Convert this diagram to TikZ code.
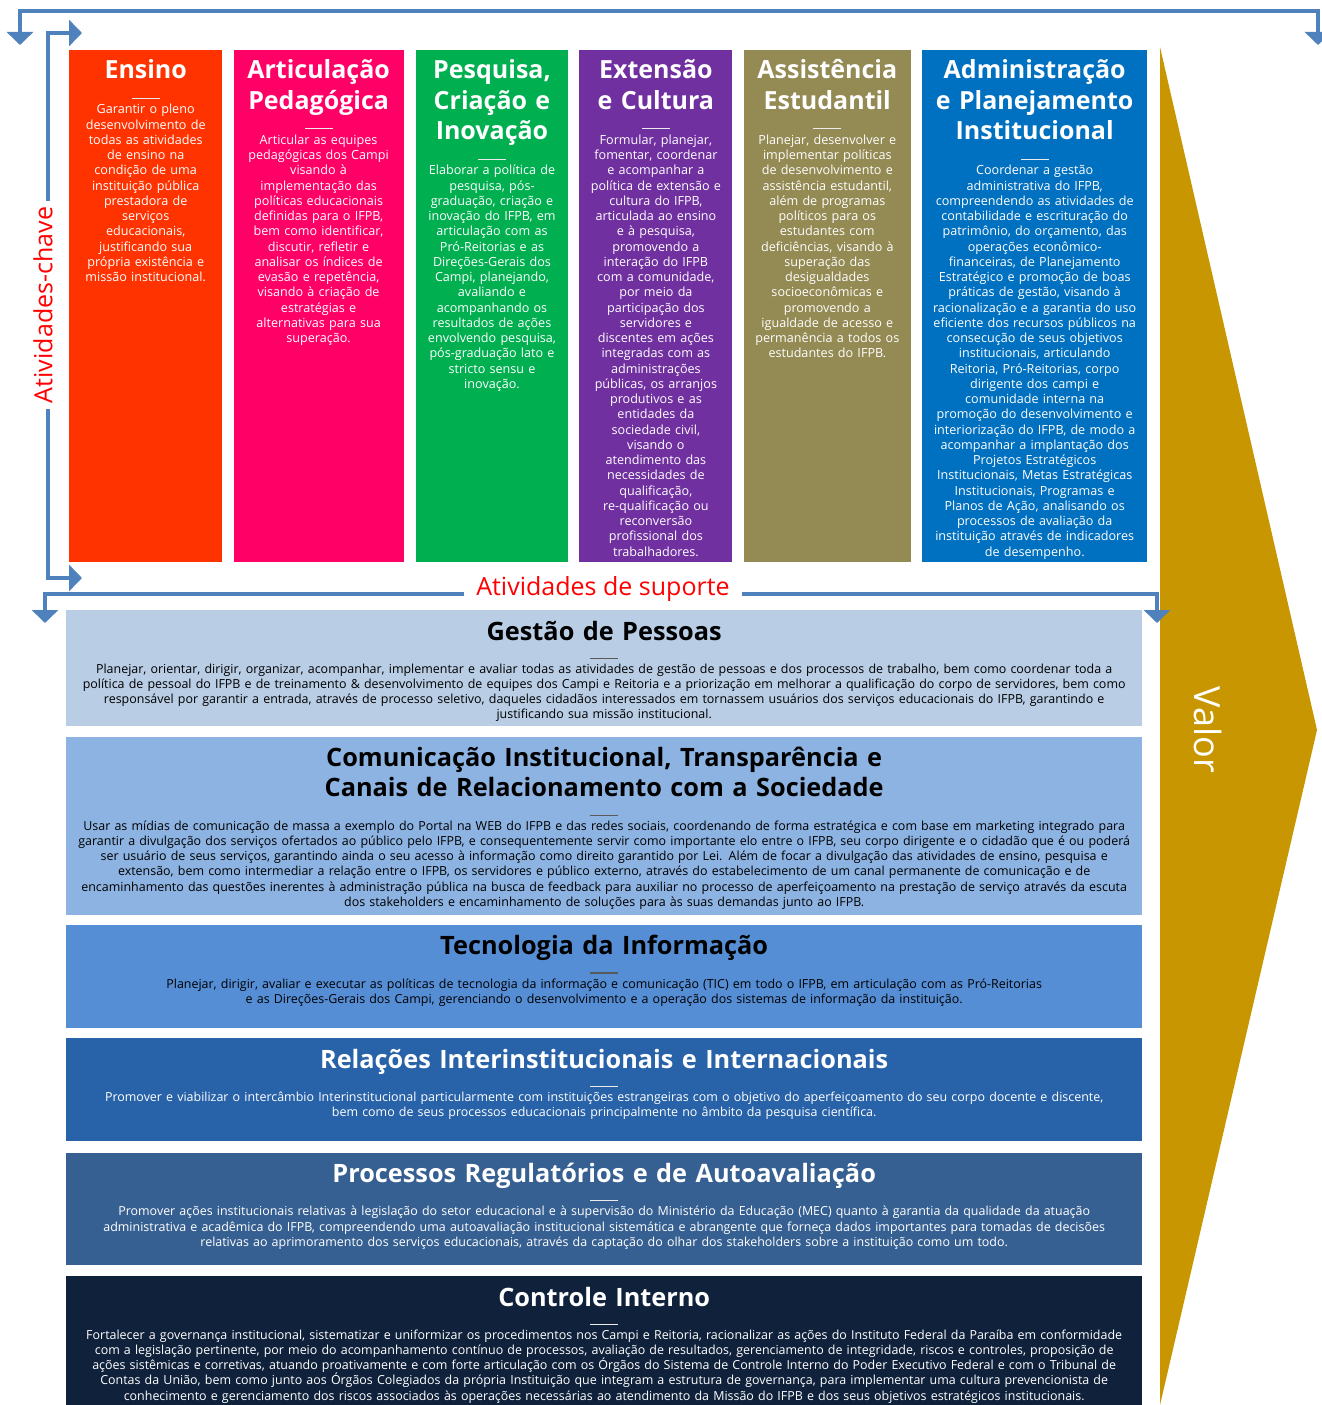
\documentclass[tikz,border=0pt]{standalone}
\usepackage{fontspec}
\setmainfont{Open Sans}
\usetikzlibrary{positioning,arrows.meta}

\definecolor{ensinoC}{HTML}{FF3300}
\definecolor{articC}{HTML}{FF0066}
\definecolor{pesqC}{HTML}{00B050}
\definecolor{extC}{HTML}{7030A0}
\definecolor{assistC}{HTML}{948A54}
\definecolor{adminC}{HTML}{0070C0}
\definecolor{gestaoC}{HTML}{B9CDE5}
\definecolor{comunC}{HTML}{8DB3E2}
\definecolor{tecC}{HTML}{558ED5}
\definecolor{relC}{HTML}{2862A8}
\definecolor{procC}{HTML}{376092}
\definecolor{contrC}{HTML}{10213B}
\definecolor{valorC}{HTML}{C89600}
\definecolor{arrowC}{HTML}{4F81BD}

\begin{document}
\begin{tikzpicture}[
    x=1pt, y=-1pt,
    colbox/.style={rectangle, inner sep=0pt, minimum height=512pt},
    coltitle/.style={text width=220pt, align=center, text=white, inner sep=0pt, font=\fontsize{25}{30.5}\selectfont\bfseries, execute at begin node=\strut, execute at end node=\strut},
    coltext/.style={text width=220pt, align=center, text=white, inner sep=0pt, font=\fontsize{12.6}{15.25}\selectfont, execute at begin node=\strut},
    sepline/.style={rectangle, inner sep=0pt, minimum width=28pt, minimum height=1.2pt, fill=white!85!gray},
    rowbox/.style={rectangle, inner sep=0pt, minimum width=1076pt},
    rowtitle/.style={text width=1070pt, align=center, inner sep=0pt, font=\fontsize{25.3}{30.5}\selectfont\bfseries, execute at begin node=\strut, execute at end node=\strut},
    rowtext/.style={text width=1120pt, align=center, inner sep=0pt, font=\fontsize{12.45}{15.2}\selectfont, execute at begin node=\strut},
    flow/.style={draw=arrowC, line width=3.2pt, <->, >={Triangle[width=26pt,length=13pt]}},
    sidelabel/.style={text=red, fill=white, font=\fontsize{25}{28}\selectfont, inner ysep=3pt}
]
\useasboundingbox (0,0) rectangle (1322,1405);

% Valor chevron
\fill[valorC] (1160,47) -- (1317,730) -- (1160,1405) -- cycle;
\node[text=white, font=\fontsize{36}{40}\selectfont, rotate=-90] (valor) at (1208,730) {Valor};

% Key activities (columns)
\node[colbox, fill=ensinoC, minimum width=153pt, anchor=north west] (ensino) at (69,50) {};
\node[colbox, fill=articC, minimum width=170pt, right=11pt of ensino] (artic) {};
\node[colbox, fill=pesqC, minimum width=152pt, right=12pt of artic] (pesq) {};
\node[colbox, fill=extC, minimum width=153pt, right=11pt of pesq] (ext) {};
\node[colbox, fill=assistC, minimum width=167pt, right=11pt of ext] (assist) {};
\node[colbox, fill=adminC, minimum width=225pt, right=11pt of assist] (admin) {};

% Ensino
\node[coltitle, below=7pt of ensino.north] (ensinoTitle) {Ensino};
\node[sepline, below=9.5pt of ensinoTitle] (ensinoSep) {};
\node[coltext, below=4pt of ensinoSep] (ensinoText) {Garantir o pleno\\ desenvolvimento de\\ todas as atividades\\ de ensino na\\ condição de uma\\ instituição pública\\ prestadora de\\ serviços\\ educacionais,\\ justificando sua\\ própria existência e\\ missão institucional.};

% Articulacao Pedagogica
\node[coltitle, below=7pt of artic.north] (articTitle) {Articulação\\ Pedagógica};
\node[sepline, below=9.5pt of articTitle] (articSep) {};
\node[coltext, below=4pt of articSep] (articText) {Articular as equipes\\ pedagógicas dos Campi\\ visando à\\ implementação das\\ políticas educacionais\\ definidas para o IFPB,\\ bem como identificar,\\ discutir, refletir e\\ analisar os índices de\\ evasão e repetência,\\ visando à criação de\\ estratégias e\\ alternativas para sua\\ superação.};

% Pesquisa
\node[coltitle, below=7pt of pesq.north] (pesqTitle) {Pesquisa,\\ Criação e\\ Inovação};
\node[sepline, below=9.5pt of pesqTitle] (pesqSep) {};
\node[coltext, below=4pt of pesqSep] (pesqText) {Elaborar a política de\\ pesquisa, pós-\\ graduação, criação e\\ inovação do IFPB, em\\ articulação com as\\ Pró-Reitorias e as\\ Direções-Gerais dos\\ Campi, planejando,\\ avaliando e\\ acompanhando os\\ resultados de ações\\ envolvendo pesquisa,\\ pós-graduação lato e\\ stricto sensu e\\ inovação.};

% Extensao
\node[coltitle, below=7pt of ext.north] (extTitle) {Extensão\\ e Cultura};
\node[sepline, below=9.5pt of extTitle] (extSep) {};
\node[coltext, below=4pt of extSep] (extText) {Formular, planejar,\\ fomentar, coordenar\\ e acompanhar a\\ política de extensão e\\ cultura do IFPB,\\ articulada ao ensino\\ e à pesquisa,\\ promovendo a\\ interação do IFPB\\ com a comunidade,\\ por meio da\\ participação dos\\ servidores e\\ discentes em ações\\ integradas com as\\ administrações\\ públicas, os arranjos\\ produtivos e as\\ entidades da\\ sociedade civil,\\ visando o\\ atendimento das\\ necessidades de\\ qualificação,\\ re-qualificação ou\\ reconversão\\ profissional dos\\ trabalhadores.};

% Assistencia Estudantil
\node[coltitle, below=7pt of assist.north] (assistTitle) {Assistência\\ Estudantil};
\node[sepline, below=9.5pt of assistTitle] (assistSep) {};
\node[coltext, below=4pt of assistSep] (assistText) {Planejar, desenvolver e\\ implementar políticas\\ de desenvolvimento e\\ assistência estudantil,\\ além de programas\\ políticos para os\\ estudantes com\\ deficiências, visando à\\ superação das\\ desigualdades\\ socioeconômicas e\\ promovendo a\\ igualdade de acesso e\\ permanência a todos os\\ estudantes do IFPB.};

% Administracao
\node[coltitle, below=7pt of admin.north] (adminTitle) {Administração\\ e Planejamento\\ Institucional};
\node[sepline, below=9.5pt of adminTitle] (adminSep) {};
\node[coltext, below=4pt of adminSep] (adminText) {Coordenar a gestão\\ administrativa do IFPB,\\ compreendendo as atividades de\\ contabilidade e escrituração do\\ patrimônio, do orçamento, das\\ operações econômico-\\ financeiras, de Planejamento\\ Estratégico e promoção de boas\\ práticas de gestão, visando à\\ racionalização e a garantia do uso\\ eficiente dos recursos públicos na\\ consecução de seus objetivos\\ institucionais, articulando\\ Reitoria, Pró-Reitorias, corpo\\ dirigente dos campi e\\ comunidade interna na\\ promoção do desenvolvimento e\\ interiorização do IFPB, de modo a\\ acompanhar a implantação dos\\ Projetos Estratégicos\\ Institucionais, Metas Estratégicas\\ Institucionais, Programas e\\ Planos de Ação, analisando os\\ processos de avaliação da\\ instituição através de indicadores\\ de desempenho.};

% Support activities (rows)
\node[rowbox, fill=gestaoC, minimum height=116pt, anchor=north west] (gestao) at (66,610) {};
\node[rowbox, fill=comunC, minimum height=178pt, below=10pt of gestao] (comun) {};
\node[rowbox, fill=tecC, minimum height=103pt, below=10pt of comun] (tec) {};
\node[rowbox, fill=relC, minimum height=103pt, below=10pt of tec] (rel) {};
\node[rowbox, fill=procC, minimum height=112pt, below=11pt of rel] (proc) {};
\node[rowbox, fill=contrC, minimum height=131pt, below=11pt of proc] (contr) {};

% Gestao de Pessoas
\node[rowtitle, below=8.5pt of gestao.north] (gestaoTitle) {Gestão de Pessoas};
\node[sepline, fill=black!65, below=8pt of gestaoTitle] (gestaoSep) {};
\node[rowtext, below=3.5pt of gestaoSep] (gestaoText) {Planejar, orientar, dirigir, organizar, acompanhar, implementar e avaliar todas as atividades de gestão de pessoas e dos processos de trabalho, bem como coordenar toda a\\ política de pessoal do IFPB e de treinamento \& desenvolvimento de equipes dos Campi e Reitoria e a priorização em melhorar a qualificação do corpo de servidores, bem como\\ responsável por garantir a entrada, através de processo seletivo, daqueles cidadãos interessados em tornassem usuários dos serviços educacionais do IFPB, garantindo e\\ justificando sua missão institucional.};

% Comunicacao
\node[rowtitle, below=8.5pt of comun.north] (comunTitle) {Comunicação Institucional, Transparência e\\ Canais de Relacionamento com a Sociedade};
\node[sepline, fill=black!65, below=8pt of comunTitle] (comunSep) {};
\node[rowtext, below=3.5pt of comunSep] (comunText) {Usar as mídias de comunicação de massa a exemplo do Portal na WEB do IFPB e das redes sociais, coordenando de forma estratégica e com base em marketing integrado para\\ garantir a divulgação dos serviços ofertados ao público pelo IFPB, e consequentemente servir como importante elo entre o IFPB, seu corpo dirigente e o cidadão que é ou poderá\\ ser usuário de seus serviços, garantindo ainda o seu acesso à informação como direito garantido por Lei. Além de focar a divulgação das atividades de ensino, pesquisa e\\ extensão, bem como intermediar a relação entre o IFPB, os servidores e público externo, através do estabelecimento de um canal permanente de comunicação e de\\ encaminhamento das questões inerentes à administração pública na busca de feedback para auxiliar no processo de aperfeiçoamento na prestação de serviço através da escuta\\ dos stakeholders e encaminhamento de soluções para às suas demandas junto ao IFPB.};

% Tecnologia da Informacao
\node[rowtitle, below=8.5pt of tec.north] (tecTitle) {Tecnologia da Informação};
\node[sepline, fill=black!65, below=8pt of tecTitle] (tecSep) {};
\node[rowtext, below=3.5pt of tecSep] (tecText) {Planejar, dirigir, avaliar e executar as políticas de tecnologia da informação e comunicação (TIC) em todo o IFPB, em articulação com as Pró-Reitorias\\ e as Direções-Gerais dos Campi, gerenciando o desenvolvimento e a operação dos sistemas de informação da instituição.};

% Relacoes
\node[rowtitle, text=white, below=8.5pt of rel.north] (relTitle) {Relações Interinstitucionais e Internacionais};
\node[sepline, below=8pt of relTitle] (relSep) {};
\node[rowtext, text=white, below=3.5pt of relSep] (relText) {Promover e viabilizar o intercâmbio Interinstitucional particularmente com instituições estrangeiras com o objetivo do aperfeiçoamento do seu corpo docente e discente,\\ bem como de seus processos educacionais principalmente no âmbito da pesquisa científica.};

% Processos
\node[rowtitle, text=white, below=8.5pt of proc.north] (procTitle) {Processos Regulatórios e de Autoavaliação};
\node[sepline, below=8pt of procTitle] (procSep) {};
\node[rowtext, text=white, below=3.5pt of procSep] (procText) {Promover ações institucionais relativas à legislação do setor educacional e à supervisão do Ministério da Educação (MEC) quanto à garantia da qualidade da atuação\\ administrativa e acadêmica do IFPB, compreendendo uma autoavaliação institucional sistemática e abrangente que forneça dados importantes para tomadas de decisões\\ relativas ao aprimoramento dos serviços educacionais, através da captação do olhar dos stakeholders sobre a instituição como um todo.};

% Controle Interno
\node[rowtitle, text=white, below=8.5pt of contr.north] (contrTitle) {Controle Interno};
\node[sepline, below=8pt of contrTitle] (contrSep) {};
\node[rowtext, text=white, below=3.5pt of contrSep] (contrText) {Fortalecer a governança institucional, sistematizar e uniformizar os procedimentos nos Campi e Reitoria, racionalizar as ações do Instituto Federal da Paraíba em conformidade\\ com a legislação pertinente, por meio do acompanhamento contínuo de processos, avaliação de resultados, gerenciamento de integridade, riscos e controles, proposição de\\ ações sistêmicas e corretivas, atuando proativamente e com forte articulação com os Órgãos do Sistema de Controle Interno do Poder Executivo Federal e com o Tribunal de\\ Contas da União, bem como junto aos Órgãos Colegiados da própria Instituição que integram a estrutura de governança, para implementar uma cultura prevencionista de\\ conhecimento e gerenciamento dos riscos associados às operações necessárias ao atendimento da Missão do IFPB e dos seus objetivos estratégicos institucionais.};

% Arrows
\coordinate (topL) at (20,45);
\coordinate (topMid) at (660,11);
\coordinate (topR) at (1318,45);
\draw[flow] (topL) |- (topMid) -| (topR);

\coordinate (chaveTop) at (82,33);
\coordinate (chaveMid) at (48,305);
\coordinate (chaveBot) at (82,578);
\draw[flow] (chaveTop) -| (chaveMid) |- (chaveBot);

\coordinate (supL) at (45,623);
\coordinate (supMid) at (603,594);
\coordinate (supR) at (1157,623);
\draw[flow] (supL) |- (supMid) -| (supR);

% Side labels
\node[sidelabel, rotate=90, inner xsep=6pt] (chave) at (43,305) {Atividades-chave};
\node[sidelabel, inner xsep=12pt] (suporte) at (603,589) {Atividades de suporte};

\end{tikzpicture}
\end{document}
